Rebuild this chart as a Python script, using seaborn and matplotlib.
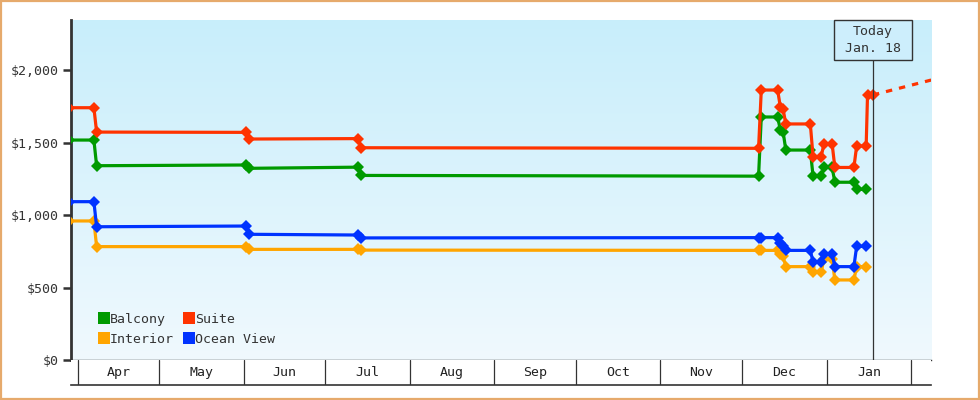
import matplotlib
matplotlib.use("Agg")

import matplotlib.pyplot as plt
import numpy as np
import pandas as pd
import seaborn as sns
from matplotlib.lines import Line2D
from matplotlib.patches import Rectangle
from matplotlib.ticker import FuncFormatter

# --- data ---
CABINS = ["Interior", "Balcony", "Ocean View", "Suite"]  # draw order
LEGEND_ORDER = ["Balcony", "Interior", "Suite", "Ocean View"]
COLORS = {
    "Balcony": "#009a00",
    "Suite": "#ff3300",
    "Interior": "#ffa500",
    "Ocean View": "#0033ff",
}

DATES = [
    "2023-03-29", "2023-04-07", "2023-04-08", "2023-06-02", "2023-06-03",
    "2023-07-13", "2023-07-14", "2023-12-07", "2023-12-08", "2023-12-14",
    "2023-12-15", "2023-12-16", "2023-12-17", "2023-12-26", "2023-12-27",
    "2023-12-30", "2023-12-31", "2024-01-03", "2024-01-04", "2024-01-11",
    "2024-01-12", "2024-01-15 12:00",
]
SUITE_EXTRA_DATES = ["2024-01-16", "2024-01-18"]

BALCONY = [1517, 1517, 1340, 1345, 1322, 1330, 1273, 1268, 1676, 1676, 1586,
           1575, 1448, 1448, 1269, 1269, 1329, 1329, 1226, 1226, 1177, 1177]
SUITE = [1740, 1740, 1572, 1570, 1524, 1527, 1464, 1460, 1862, 1862, 1745,
         1730, 1628, 1628, 1403, 1403, 1492, 1492, 1328, 1328, 1476, 1476,
         1828, 1828]
OCEAN_VIEW = [1092, 1092, 919, 924, 867, 862, 842, 844, 844, 844, 805,
              788, 756, 756, 676, 676, 733, 733, 644, 644, 784, 784]
INTERIOR = [959, 959, 782, 782, 763, 763, 758, 756, 756, 756, 729,
            715, 644, 644, 605, 605, 700, 700, 552, 552, 644, 644]

FORECAST_DATES = ["2024-01-18", "2024-02-09"]
FORECAST_SUITE = [1828, 1934]

TODAY = "2024-01-18"
TODAY_LABEL = "Today\nJan. 18"
MONTH_STARTS = pd.date_range("2023-04-01", "2024-02-01", freq="MS")
MONTH_LABELS = ["Apr", "May", "Jun", "Jul", "Aug", "Sep", "Oct", "Nov", "Dec", "Jan"]
YTICKS = [0, 500, 1000, 1500, 2000]

series = {
    "Balcony": (DATES, BALCONY),
    "Suite": (DATES + SUITE_EXTRA_DATES, SUITE),
    "Ocean View": (DATES, OCEAN_VIEW),
    "Interior": (DATES, INTERIOR),
}
rows = []
for cabin in CABINS:
    ds, vs = series[cabin]
    for d, v in zip(ds, vs):
        rows.append({"date": pd.Timestamp(d), "price": v, "cabin": cabin})
df = pd.DataFrame(rows)

sns.set_style("white")
plt.rcParams["font.family"] = ["DejaVu Sans Mono"]
plt.rcParams["font.size"] = 9.5
INK = "#333333"

fig = plt.figure(figsize=(9.8, 4.0), dpi=100)
fig.patch.set_facecolor("white")
fig.patches.append(Rectangle((0.001, 0.002), 0.998, 0.996, transform=fig.transFigure,
                             fill=False, edgecolor="#e6aa6c", linewidth=1.6))

ax = fig.add_axes([0.0724, 0.10, 0.8776, 0.85])
band = fig.add_axes([0.0724, 0.0375, 0.8776, 0.0625], sharex=ax)

# gradient background
grad = np.linspace(0, 1, 256).reshape(-1, 1)
top = np.array([200, 238, 251]) / 255
bot = np.array([240, 249, 254]) / 255
img = top + (bot - top) * grad[:, :, None]
ax.imshow(img, extent=[0, 1, 0, 1], transform=ax.transAxes, aspect="auto",
          zorder=0, origin="upper")

sns.lineplot(data=df, x="date", y="price", hue="cabin", hue_order=CABINS,
             palette=COLORS, marker="D", markersize=6.2, markeredgewidth=0,
             linewidth=2.3, legend=False, sort=False, ax=ax, zorder=3)

ax.plot(pd.to_datetime(FORECAST_DATES), FORECAST_SUITE, color=COLORS["Suite"],
        linewidth=2.3, linestyle=(0, (2, 2.2)), zorder=3)

x0 = pd.Timestamp("2023-04-01") - pd.Timedelta(days=2.42)
x1 = pd.Timestamp("2023-04-01") + pd.Timedelta(days=313.3)
ax.set_xlim(x0, x1)
ax.set_ylim(0, 2345)
ax.set_yticks(YTICKS)
ax.yaxis.set_major_formatter(FuncFormatter(lambda v, _: f"${v:,.0f}"))
ax.tick_params(axis="y", left=True, length=6, width=1.8, color=INK,
               labelcolor=INK, labelsize=9.5, pad=3)
ax.tick_params(axis="x", bottom=False, labelbottom=False)
ax.set_xlabel("")
ax.set_ylabel("")
for s in ["top", "right"]:
    ax.spines[s].set_visible(False)
ax.spines["left"].set_color(INK)
ax.spines["left"].set_linewidth(2.0)
ax.spines["bottom"].set_color(INK)
ax.spines["bottom"].set_linewidth(1.0)

# today marker: line, box and label
today = pd.Timestamp(TODAY)
box_h = 40 / 340
half_w = pd.Timedelta(days=39 / 2.7235)
ax.axvline(today, ymin=0, ymax=1 - box_h, color=INK, linewidth=0.9, zorder=4)
ax.add_patch(Rectangle((today - half_w, 1 - box_h), 2 * half_w, box_h,
                       transform=ax.get_xaxis_transform(), facecolor="#cdeefc",
                       edgecolor=INK, linewidth=1.0, zorder=5, clip_on=False))
ax.text(today, 1 - box_h / 2, TODAY_LABEL, transform=ax.get_xaxis_transform(),
        ha="center", va="center", fontsize=9.5, color=INK, linespacing=1.45,
        zorder=6)

# legend
handles = [Line2D([], [], marker="s", linestyle="none", markersize=8,
                  markerfacecolor=COLORS[c], markeredgewidth=0) for c in LEGEND_ORDER]
ax.legend(handles, LEGEND_ORDER, ncol=2, loc="lower left", frameon=False,
          bbox_to_anchor=(0.018, 0.006), handletextpad=0.05, columnspacing=0.8,
          labelspacing=0.55, handlelength=0.8, fontsize=9.5, labelcolor=INK)

# month band
band.set_facecolor("white")
band.set_ylim(0, 1)
band.tick_params(bottom=False, labelbottom=False, left=False, labelleft=False)
for s in ["left", "right", "top"]:
    band.spines[s].set_visible(False)
band.spines["bottom"].set_color(INK)
band.spines["bottom"].set_linewidth(1.2)
for m in MONTH_STARTS:
    band.axvline(m, color=INK, linewidth=0.9)
for start, end, lab in zip(MONTH_STARTS[:-1], MONTH_STARTS[1:], MONTH_LABELS):
    mid = start + (end - start) / 2
    band.text(mid, 0.5, lab, ha="center", va="center", fontsize=9.5, color="#222222")

fig.savefig("out.png", dpi=100)
